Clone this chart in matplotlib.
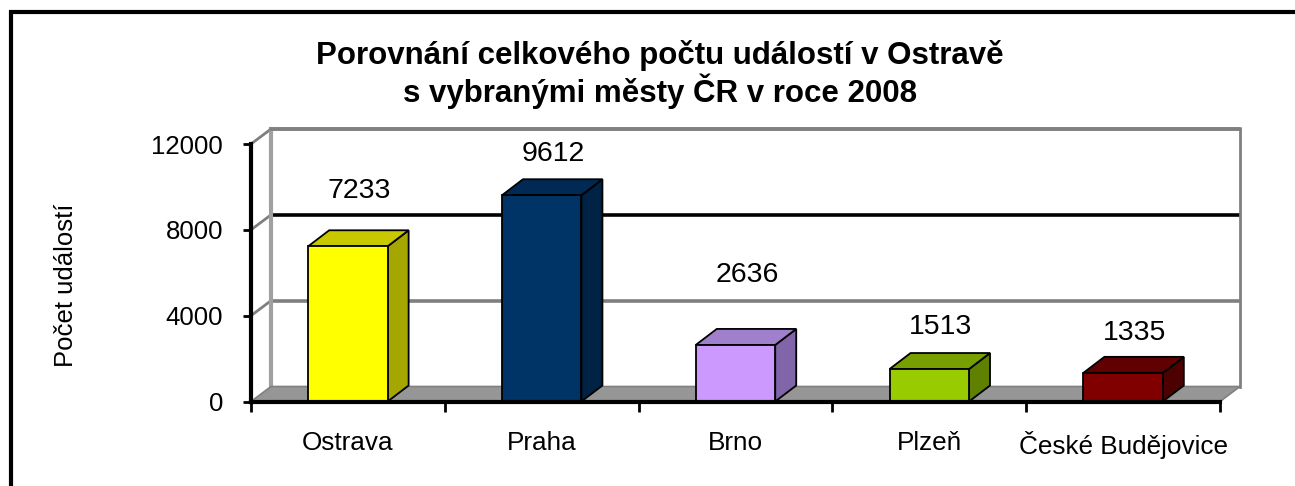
import matplotlib
matplotlib.use("Agg")
import matplotlib.pyplot as plt
from matplotlib.patches import Polygon, Rectangle

plt.rcParams['font.family'] = ['Liberation Sans', 'DejaVu Sans']

cities = ['Ostrava', 'Praha', 'Brno', 'Plzeň', 'České Budějovice']
events = [7233, 9612, 2636, 1513, 1335]
yticks = [0, 4000, 8000, 12000]

# styling (front, side, top) per bar
front_colors = ['#FFFF00', '#003366', '#CC99FF', '#99CC00', '#800000']
side_colors = ['#A6A600', '#002244', '#8066A8', '#5F8000', '#4C0000']
top_colors = ['#C8C800', '#002A55', '#A080CC', '#779F00', '#600000']
label_lift = [2560, 1940, 3260, 1960, 1860]  # manual label placement above bars

W, H = 1295, 486
fig = plt.figure(figsize=(W / 100, H / 100), dpi=100)
ax = fig.add_axes([251 / W, 1 - 401.5 / H, 969 / W, 257.5 / H])
ax.set_xlim(-0.5, 4.5)
ax.set_ylim(0, 12000)

# depth of the 3D effect in data units
DX_WALL, DY_WALL = 20 / 193.8, 15 / 257.5 * 12000
DX_BAR, DY_BAR = 21 / 193.8, 16 / 257.5 * 12000
x0, x1 = -0.5, 4.5
ymax = 12000

# back wall
ax.add_patch(Polygon([(x0 + DX_WALL, DY_WALL), (x1 + DX_WALL, DY_WALL),
                      (x1 + DX_WALL, ymax + DY_WALL), (x0 + DX_WALL, ymax + DY_WALL)],
                     closed=True, facecolor='white', edgecolor='none', clip_on=False, zorder=0))
for v in yticks[1:]:
    col = 'black' if v == 8000 else '#7f7f7f'
    ax.plot([x0 + DX_WALL, x1 + DX_WALL], [v + DY_WALL] * 2, color=col, lw=2.6,
            clip_on=False, zorder=0.5, solid_capstyle='butt')
    ax.plot([x0, x0 + DX_WALL], [v, v + DY_WALL], color='#7f7f7f', lw=2,
            clip_on=False, zorder=0.5)
ax.plot([x0 + DX_WALL] * 2, [DY_WALL, ymax + DY_WALL], color='#a0a0a0', lw=3,
        clip_on=False, zorder=0.6)
ax.plot([x1 + DX_WALL] * 2, [DY_WALL, ymax + DY_WALL], color='#808080', lw=2,
        clip_on=False, zorder=0.6)
ax.plot([x0 + DX_WALL, x1 + DX_WALL], [ymax + DY_WALL] * 2, color='#808080', lw=2.6,
        clip_on=False, zorder=0.6)

# floor
ax.add_patch(Polygon([(x0, 0), (x1, 0), (x1 + DX_WALL, DY_WALL), (x0 + DX_WALL, DY_WALL)],
                     closed=True, facecolor='#969696', edgecolor='#808080', lw=1.2,
                     clip_on=False, zorder=0.7))

# bars
bw = 0.41
for i, v in enumerate(events):
    l, r = i - bw / 2, i + bw / 2
    ax.add_patch(Polygon([(r, 0), (r, v), (r + DX_BAR, v + DY_BAR), (r + DX_BAR, DY_BAR)],
                         closed=True, facecolor=side_colors[i], edgecolor='black', lw=1.3,
                         clip_on=False, zorder=2))
    ax.add_patch(Polygon([(l, v), (r, v), (r + DX_BAR, v + DY_BAR), (l + DX_BAR, v + DY_BAR)],
                         closed=True, facecolor=top_colors[i], edgecolor='black', lw=1.3,
                         clip_on=False, zorder=2))
    ax.add_patch(Rectangle((l, 0), bw, v, facecolor=front_colors[i], edgecolor='black',
                           lw=1.3, clip_on=False, zorder=2.1))
    ax.text(i + 0.06, v + label_lift[i], str(v), ha='center', va='center', fontsize=20.5)

# axes
for s in ['top', 'right']:
    ax.spines[s].set_visible(False)
for s in ['left', 'bottom']:
    ax.spines[s].set_linewidth(3)
    ax.spines[s].set_zorder(3)
ax.patch.set_alpha(0)
ax.set_yticks(yticks)
ax.set_yticklabels([str(t) for t in yticks], fontsize=18.5)
ax.tick_params(axis='y', length=6, width=2, pad=14, direction='out')
ax.set_xticks([x0 + k for k in range(6)])
ax.set_xticklabels([])
ax.set_xticks(range(5), minor=True)
ax.set_xticklabels(cities, minor=True, fontsize=18.8)
ax.tick_params(axis='x', which='major', length=7, width=2, direction='out')
ax.tick_params(axis='x', which='minor', length=0, pad=21)

fig.text(66 / W, 1 - 285 / H, 'Počet událostí', rotation=90, ha='center', va='center',
         fontsize=18.5)
fig.text(660 / W, 1 - 64 / H, 'Porovnání celkového počtu událostí v Ostravě',
         ha='center', va='baseline', fontsize=22.5, fontweight='bold')
fig.text(660 / W, 1 - 102 / H, 's vybranými městy ČR v roce 2008',
         ha='center', va='baseline', fontsize=22.5, fontweight='bold')

# outer frame (top and left only visible)
fig.add_artist(Rectangle((11 / W, -0.2), 1.2, 1.2 - 12 / H, transform=fig.transFigure,
                         facecolor='none', edgecolor='black', lw=3, clip_on=False))

fig.savefig('out.png', dpi=100)
